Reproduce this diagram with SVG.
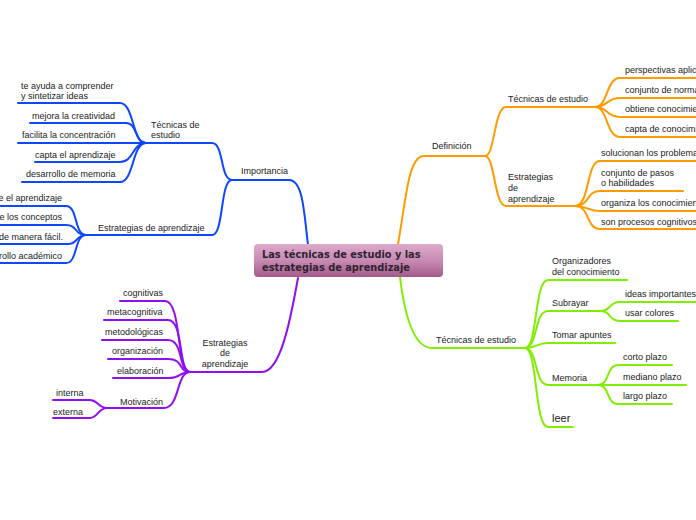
<svg xmlns="http://www.w3.org/2000/svg" width="696" height="520" viewBox="0 0 696 520">
<defs>
<linearGradient id="cg" x1="0" y1="0" x2="0" y2="1">
<stop offset="0" stop-color="#dcaacb"/>
<stop offset="0.5" stop-color="#c88ab3"/>
<stop offset="1" stop-color="#a35a8a"/>
</linearGradient>
<style>
.c{fill:none;stroke-width:2;stroke-linecap:round}
.b{stroke:#0d47ff}.p{stroke:#8e10f2}.o{stroke:#ff9a00}.g{stroke:#7fee00}
text{font-family:"Liberation Sans",Arial,sans-serif;font-size:9px;fill:#222}
.m{text-anchor:middle}.e{text-anchor:end}
.t{font-family:"DejaVu Sans",Verdana,sans-serif;font-weight:bold;font-size:9.8px;fill:#2e2330}
</style>
</defs>
<rect width="696" height="520" fill="#fff"/>
<g id="connectors">
<path class="c b" d="M308,245 C304,212 303,180 289,180 L232,180"/>
<path class="c b" d="M232,180 C220,180 224,143 212,143 L146,143"/>
<path class="c b" d="M232,180 C220,180 224,235 212,235 L86,235"/>
<path class="c b" d="M146,143 C132,143 134,103 120,103 L18,103"/>
<path class="c b" d="M146,143 C134,143 138,123 126,123 L30,123"/>
<path class="c b" d="M146,143 L18,143"/>
<path class="c b" d="M146,143 C132,143 134,162 120,162 L35,162"/>
<path class="c b" d="M146,143 C132,143 134,182 120,182 L22,182"/>
<path class="c b" d="M86,235 C74,235 78,206 66,206 L0,206"/>
<path class="c b" d="M86,235 C74,235 78,225 66,225 L0,225"/>
<path class="c b" d="M86,235 C76,235 78,244 68,244 L0,244"/>
<path class="c b" d="M86,235 C74,235 78,263 66,263 L0,263"/>
<path class="c p" d="M298,278 C292,310 282,372 262,372 L190,372"/>
<path class="c p" d="M190,372 C176,372 182,301 165,301 L120,301"/>
<path class="c p" d="M190,372 C178,372 184,320 168,320 L104,320"/>
<path class="c p" d="M190,372 C178,372 184,340 168,340 L102,340"/>
<path class="c p" d="M190,372 C178,372 184,359 168,359 L108,359"/>
<path class="c p" d="M190,372 C178,372 182,378 168,378 L113,378"/>
<path class="c p" d="M190,372 C176,372 180,408 164,408 L107,408"/>
<path class="c p" d="M107,408 C98,408 98,400 90,400 L53,400"/>
<path class="c p" d="M107,408 C98,408 98,418 90,418 L53,418"/>
<path class="c o" d="M398,244 C406,200 408,156 424,156 L485,156"/>
<path class="c o" d="M485,156 C495,156 494,107 506,107 L595,107"/>
<path class="c o" d="M485,156 C495,156 494,206 506,206 L575,206"/>
<path class="c o" d="M595,107 C608,107 606,78 620,78 L696,78"/>
<path class="c o" d="M595,107 C608,107 606,98 620,98 L696,98"/>
<path class="c o" d="M595,107 C608,107 606,117 620,117 L696,117"/>
<path class="c o" d="M595,107 C608,107 606,137 620,137 L696,137"/>
<path class="c o" d="M575,206 C590,206 586,161 600,161 L696,161"/>
<path class="c o" d="M575,206 C590,206 586,191 600,191 L683,191"/>
<path class="c o" d="M575,206 C588,206 588,211 600,211 L696,211"/>
<path class="c o" d="M575,206 C590,206 586,229 600,229 L696,229"/>
<path class="c g" d="M400,277 C404,310 412,348 432,348 L525,348"/>
<path class="c g" d="M525,348 C538,348 534,280 548,280 L627,280"/>
<path class="c g" d="M525,348 C538,348 534,311 548,311 L600,311"/>
<path class="c g" d="M525,348 C538,348 536,343 548,343 L615,343"/>
<path class="c g" d="M525,348 C538,348 534,385 548,385 L598,385"/>
<path class="c g" d="M525,348 C538,348 534,427 548,427 L573,427"/>
<path class="c g" d="M600,311 C612,311 608,302 620,302 L696,302"/>
<path class="c g" d="M600,311 C612,311 608,321 620,321 L678,321"/>
<path class="c g" d="M598,385 C610,385 606,365 618,365 L672,365"/>
<path class="c g" d="M598,385 L686,385"/>
<path class="c g" d="M598,385 C610,385 606,404 618,404 L672,404"/>
</g>
<g id="central">
<rect x="254" y="244" width="189" height="33" rx="4" fill="url(#cg)"/>
<text class="t" x="262" y="258">Las técnicas de estudio y las</text>
<text class="t" x="262" y="271">estrategias de aprendizaje</text>
</g>
<g id="importancia"><text x="241" y="174">Importancia</text></g>
<g id="b-tecnicas"><text x="151" y="128">Técnicas de</text><text x="151" y="138">estudio</text></g>
<g id="b-t1"><text x="21" y="89">te ayuda a comprender</text><text x="21" y="99">y sintetizar ideas</text></g>
<g id="b-t2"><text x="32" y="119">mejora la creatividad</text></g>
<g id="b-t3"><text x="22" y="138">facilita la concentración</text></g>
<g id="b-t4"><text x="35" y="158">capta el aprendizaje</text></g>
<g id="b-t5"><text x="26" y="177">desarrollo de memoria</text></g>
<g id="b-estrategias"><text x="98" y="231">Estrategias de aprendizaje</text></g>
<g id="b-e1"><text class="e" x="62" y="201">e el aprendizaje</text></g>
<g id="b-e2"><text class="e" x="62" y="220">e los conceptos</text></g>
<g id="b-e3"><text class="e" x="63" y="240">de manera fácil.</text></g>
<g id="b-e4"><text class="e" x="62" y="259">rrollo académico</text></g>
<g id="p-estrategias"><text class="m" x="225" y="346">Estrategias</text><text class="m" x="225" y="356">de</text><text class="m" x="225" y="367">aprendizaje</text></g>
<g id="p-1"><text x="123" y="296">cognitivas</text></g>
<g id="p-2"><text x="107" y="315">metacognitiva</text></g>
<g id="p-3"><text x="105" y="335">metodológicas</text></g>
<g id="p-4"><text x="112" y="354">organización</text></g>
<g id="p-5"><text x="117" y="374">elaboración</text></g>
<g id="p-motivacion"><text x="120" y="405">Motivación</text></g>
<g id="p-m1"><text x="56" y="396">interna</text></g>
<g id="p-m2"><text x="53" y="415">externa</text></g>
<g id="o-definicion"><text x="432" y="149">Definición</text></g>
<g id="o-tecnicas"><text x="508" y="102">Técnicas de estudio</text></g>
<g id="o-t1"><text x="625" y="73">perspectivas aplic</text></g>
<g id="o-t2"><text x="625" y="93">conjunto de norma</text></g>
<g id="o-t3"><text x="625" y="112">obtiene conocimie</text></g>
<g id="o-t4"><text x="625" y="132">capta de conocimi</text></g>
<g id="o-estrategias"><text x="508" y="180">Estrategias</text><text x="508" y="191">de</text><text x="508" y="202">aprendizaje</text></g>
<g id="o-e1"><text x="601" y="156">solucionan los problema</text></g>
<g id="o-e2"><text x="601" y="176">conjunto de pasos</text><text x="601" y="186">o habilidades</text></g>
<g id="o-e3"><text x="601" y="206">organiza los conocimien</text></g>
<g id="o-e4"><text x="601" y="225">son procesos cognitivos</text></g>
<g id="g-tecnicas"><text x="436" y="343">Técnicas de estudio</text></g>
<g id="g-1"><text x="552" y="264">Organizadores</text><text x="552" y="275">del conocimiento</text></g>
<g id="g-subrayar"><text x="552" y="306">Subrayar</text></g>
<g id="g-s1"><text x="625" y="297">ideas importantes</text></g>
<g id="g-s2"><text x="625" y="316">usar colores</text></g>
<g id="g-apuntes"><text x="552" y="338">Tomar apuntes</text></g>
<g id="g-memoria"><text x="552" y="381">Memoria</text></g>
<g id="g-m1"><text x="623" y="360">corto plazo</text></g>
<g id="g-m2"><text x="623" y="380">mediano plazo</text></g>
<g id="g-m3"><text x="623" y="399">largo plazo</text></g>
<g id="g-leer"><text x="552" y="422" style="font-size:11px">leer</text></g>
</svg>
